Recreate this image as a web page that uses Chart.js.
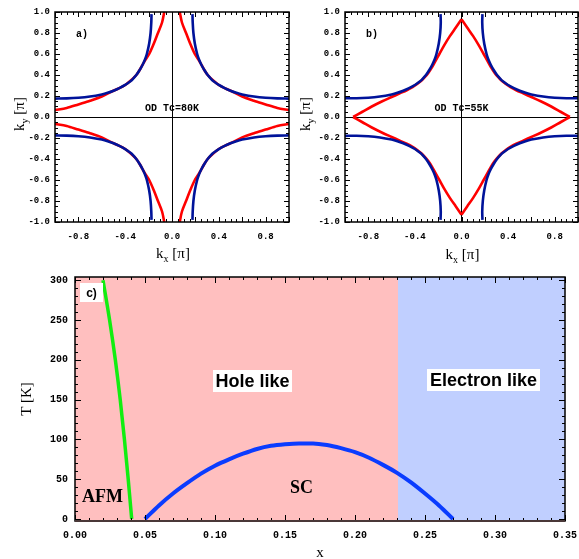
<!DOCTYPE html>
<html><head><meta charset="utf-8">
<script src="https://cdn.jsdelivr.net/npm/chart.js@4.4.0/dist/chart.umd.min.js"></script>
<style>
html,body{margin:0;padding:0;background:#fff;width:579px;height:559px;overflow:hidden}
canvas{position:absolute;display:block}
</style></head><body>
<canvas id="ca" width="290" height="265" style="left:0;top:0"></canvas>
<canvas id="cb" width="289" height="265" style="left:290px;top:0"></canvas>
<canvas id="cc" width="579" height="294" style="left:0;top:265px"></canvas>
<script>
// ---------- DATA ----------
// Panel a (OD Tc=80K): first-quadrant branch of each Fermi-surface curve (other quadrants by mirror symmetry)
const aBlueKx = [1.0, 0.9, 0.8, 0.7, 0.6, 0.55, 0.5, 0.45, 0.4, 0.35, 0.345, 0.305, 0.275, 0.25, 0.23, 0.215, 0.195, 0.183, 0.177, 0.175];
const aBlueKy = [0.175, 0.177, 0.183, 0.195, 0.215, 0.23, 0.25, 0.275, 0.305, 0.345, 0.35, 0.4, 0.45, 0.5, 0.55, 0.6, 0.7, 0.8, 0.9, 0.98];
const aRedKx  = [1.0, 0.9, 0.8, 0.7, 0.6, 0.53, 0.45, 0.4, 0.35, 0.305, 0.275, 0.235, 0.195, 0.155, 0.12, 0.085, 0.066];
const aRedKy  = [0.066, 0.085, 0.12, 0.155, 0.195, 0.235, 0.275, 0.305, 0.35, 0.4, 0.45, 0.53, 0.6, 0.7, 0.8, 0.9, 1.0];
// Panel b (OD Tc=55K)
const bBlueKx = [1.0, 0.9, 0.8, 0.7, 0.6, 0.55, 0.5, 0.45, 0.4, 0.35, 0.345, 0.305, 0.275, 0.25, 0.23, 0.215, 0.195, 0.183, 0.178, 0.18];
const bBlueKy = [0.18, 0.178, 0.183, 0.195, 0.215, 0.23, 0.25, 0.275, 0.305, 0.345, 0.35, 0.4, 0.45, 0.5, 0.55, 0.6, 0.7, 0.8, 0.9, 0.98];
const bRedKx  = [0.93, 0.85, 0.77, 0.68, 0.6, 0.53, 0.47, 0.42, 0.38, 0.345, 0.315, 0.285, 0.255, 0.225, 0.19, 0.15, 0.1, 0.05, 0.0];
const bRedKy  = [0.0, 0.05, 0.1, 0.15, 0.19, 0.225, 0.255, 0.285, 0.315, 0.345, 0.38, 0.42, 0.47, 0.53, 0.6, 0.68, 0.77, 0.85, 0.93];
// Panel c: phase diagram
const afmX = [0.0200, 0.0247, 0.0288, 0.0323, 0.0353, 0.0380, 0.0405];
const afmT = [300, 250, 200, 150, 100, 50, 0];
const scX = [0.05, 0.06, 0.07, 0.08, 0.09, 0.10, 0.11, 0.12, 0.13, 0.14, 0.15, 0.16, 0.17, 0.18, 0.19, 0.20, 0.21, 0.22, 0.23, 0.24, 0.25, 0.26, 0.27];
const scT = [0, 17, 32, 45, 57, 67, 75, 82, 88, 92, 94, 95, 95, 93, 89, 84, 77, 68, 58, 46, 32, 17, 0];
const regionX = [0.0, 0.231, 0.35];      // hole-like | electron-like boundary
// Tick labels
const kyLabels = [-1.0, -0.8, -0.6, -0.4, -0.2, 0.0, 0.2, 0.4, 0.6, 0.8, 1.0];
const kxLabels = [-0.8, -0.4, 0.0, 0.4, 0.8];
const cxLabels = [0.00, 0.05, 0.10, 0.15, 0.20, 0.25, 0.30, 0.35];
const cyLabels = [0, 50, 100, 150, 200, 250, 300];

// ---------- helpers ----------
function makeTicks(min, max, step){ const out=[]; const n=Math.round((max-min)/step); for(let i=0;i<=n;i++) out.push(Math.round((min+i*step)*1e6)/1e6); return out; }
function has(arr, v){ return arr.some(a=>Math.abs(a-v)<1e-7); }
function pts(xs, ys, sx, sy){ return xs.map((v,i)=>({x:sx*v, y:sy*ys[i]})); }
const Q = [[1,1],[-1,1],[-1,-1],[1,-1]];
const SERIF = '"Liberation Serif", "Times New Roman", serif';
const MONO = '"Liberation Mono", "Courier New", monospace';
const SANS = '"Liberation Sans", Arial, sans-serif';
function noPad(s){ s.paddingLeft=0; s.paddingRight=0; s.paddingTop=0; s.paddingBottom=0; }

const frameTicks = {
  id:'frameTicks',
  afterDatasetsDraw(chart, args, o){
    const {ctx, chartArea:a} = chart; const xs=chart.scales.x, ys=chart.scales.y;
    ctx.save(); ctx.strokeStyle='#000'; ctx.lineWidth=1;
    ctx.beginPath();
    xs.ticks.forEach(t=>{
      const p = Math.round(xs.getPixelForValue(t.value))+0.5;
      const L = has(o.xMajor,t.value)?o.major:o.minor;
      ctx.moveTo(p,a.bottom); ctx.lineTo(p,a.bottom-L);
      ctx.moveTo(p,a.top); ctx.lineTo(p,a.top+L);
    });
    ys.ticks.forEach(t=>{
      const p = Math.round(ys.getPixelForValue(t.value))+0.5;
      const L = has(o.yMajor,t.value)?o.major:o.minor;
      ctx.moveTo(a.left,p); ctx.lineTo(a.left+L,p);
      ctx.moveTo(a.right,p); ctx.lineTo(a.right-L,p);
    });
    ctx.stroke();
    ctx.lineWidth=o.borderWidth;
    ctx.strokeRect(a.left,a.top,a.right-a.left,a.bottom-a.top);
    if (o.bottomColor){ ctx.strokeStyle=o.bottomColor; ctx.lineWidth=2; ctx.beginPath(); ctx.moveTo(a.left,a.bottom); ctx.lineTo(a.right,a.bottom); ctx.stroke(); }
    ctx.restore();
  }
};

function drawK(ctx, sub, x, y, rotate){
  ctx.save(); ctx.translate(x,y); if(rotate) ctx.rotate(-Math.PI/2);
  const big='15px '+SERIF, small='10px '+SERIF;
  ctx.font=big; const wk=ctx.measureText('k').width; const wr=ctx.measureText(' [π]').width;
  ctx.font=small; const ws=ctx.measureText(sub).width;
  let cx=-(wk+ws+wr)/2;
  ctx.textBaseline='alphabetic'; ctx.textAlign='left'; ctx.fillStyle='#000';
  ctx.font=big; ctx.fillText('k',cx,0); cx+=wk;
  ctx.font=small; ctx.fillText(sub,cx,4); cx+=ws;
  ctx.font=big; ctx.fillText(' [π]',cx,0);
  ctx.restore();
}

function kChart(id, blueKx, blueKy, redKx, redKy, label, note, yTitleX, xTitleY){
  const datasets = [];
  Q.forEach(([sx,sy])=>datasets.push({data:pts(blueKx,blueKy,sx,sy), borderColor:'#00139a', borderWidth:2.6}));
  Q.forEach(([sx,sy])=>datasets.push({data:pts(redKx,redKy,sx,sy), borderColor:'#ff0000', borderWidth:2.6}));
  datasets.forEach(d=>{ d.pointRadius=0; d.tension=0.3; d.fill=false; });
  const tickFont = {family:MONO, size:9, weight:'bold'};
  const zeroGrid = { drawTicks:false, lineWidth:1, color: c => (c.tick && Math.abs(c.tick.value)<1e-7) ? '#000' : 'rgba(0,0,0,0)' };
  const annot = {
    id:'annot'+id,
    afterDraw(chart){
      const {ctx, chartArea:a} = chart;
      ctx.save(); ctx.fillStyle='#000';
      ctx.font='bold 10px '+MONO; ctx.textAlign='left'; ctx.textBaseline='alphabetic';
      ctx.fillText(label, a.left+21, a.top+25);
      ctx.textAlign='center';
      ctx.fillText(note, (a.left+a.right)/2, a.top+99);
      ctx.restore();
      drawK(ctx, 'y', yTitleX, (a.top+a.bottom)/2 - 3, true);
      drawK(ctx, 'x', (a.left+a.right)/2 + 1, xTitleY, false);
    }
  };
  return new Chart(document.getElementById(id), {
    type:'line',
    data:{datasets},
    options:{
      responsive:false, animation:false, devicePixelRatio:1,
      layout:{padding:{left:0, right:1, top:12, bottom:0}},
      plugins:{legend:{display:false}, tooltip:{enabled:false},
        frameTicks:{xMajor:kyLabels, yMajor:kyLabels, major:5, minor:3, borderWidth:1.5}},
      scales:{
        x:{type:'linear', min:-1, max:1,
           afterBuildTicks: s=>{ s.ticks = makeTicks(-1,1,0.05).map(v=>({value:v})); },
           afterFit: s=>{ s.height = 43; noPad(s); },
           ticks:{autoSkip:false, maxRotation:0, padding:9, font:tickFont, color:'#000',
                  callback: v => has(kxLabels, v) ? (Math.abs(v)<1e-7?0:v).toFixed(1) : ''},
           grid: zeroGrid, border:{display:false}},
        y:{type:'linear', min:-1, max:1,
           afterBuildTicks: s=>{ s.ticks = makeTicks(-1,1,0.05).map(v=>({value:v})); },
           afterFit: s=>{ s.width = 55; noPad(s); },
           ticks:{autoSkip:false, padding:5, font:tickFont, color:'#000',
                  callback: v => has(kyLabels, v) ? (Math.abs(v)<1e-7?0:v).toFixed(1) : ''},
           grid: zeroGrid, border:{display:false}}
      }
    },
    plugins:[frameTicks, annot]
  });
}

Chart.defaults.font.family = MONO;
kChart('ca', aBlueKx, aBlueKy, aRedKx, aRedKy, 'a)', 'OD Tc=80K', 24, 258);
kChart('cb', bBlueKx, bBlueKy, bRedKx, bRedKy, 'b)', 'OD Tc=55K', 20, 259);

// ---------- Panel c ----------
const cYMin = -2.5, cYMax = 304;
const regions = {
  id:'regions',
  beforeDatasetsDraw(chart){
    const {ctx, chartArea:a, scales:{x}} = chart;
    const cols = ['#ffbfbf', '#c0cfff'];
    ctx.save();
    for (let i=0;i<regionX.length-1;i++){
      const x0 = Math.round(x.getPixelForValue(regionX[i]));
      const x1 = Math.round(x.getPixelForValue(regionX[i+1]));
      ctx.fillStyle = cols[i];
      ctx.fillRect(x0, a.top, x1-x0, a.bottom-a.top);
    }
    ctx.restore();
  }
};
const cAnnot = {
  id:'cAnnot',
  afterDraw(chart){
    const {ctx, chartArea:a} = chart;
    ctx.save();
    function box(txt, cx, cy, w, h, font){
      ctx.fillStyle='#fff'; ctx.fillRect(cx-w/2, cy-h/2, w, h);
      ctx.fillStyle='#000'; ctx.font=font; ctx.textAlign='center'; ctx.textBaseline='middle';
      ctx.fillText(txt, cx, cy+1);
    }
    box('c)', 91.5, 27.5, 23, 19, 'bold 12px '+SANS);
    box('Hole like', 252.5, 116, 79, 22, 'bold 18px '+SANS);
    box('Electron like', 483.5, 115, 113, 22, 'bold 18px '+SANS);
    ctx.fillStyle='#000'; ctx.textBaseline='alphabetic'; ctx.textAlign='left';
    ctx.font='bold 18px '+SERIF;
    ctx.fillText('AFM', 82, 237);
    ctx.fillText('SC', 290, 228);
    ctx.font='15px '+SERIF; ctx.textAlign='center';
    ctx.fillText('x', (a.left+a.right)/2, 292);
    ctx.translate(31, (a.top+a.bottom)/2); ctx.rotate(-Math.PI/2);
    ctx.fillText('T [K]', 0, 0);
    ctx.restore();
  }
};
const cTickFont = {family:MONO, size:10, weight:'bold'};
new Chart(document.getElementById('cc'), {
  type:'line',
  data:{datasets:[
    {data:pts(scX, scT, 1, 1), borderColor:'#0a3cff', borderWidth:4, cubicInterpolationMode:'monotone'},
    {data:pts(afmX, afmT, 1, 1), borderColor:'#11ee11', borderWidth:3.5, cubicInterpolationMode:'monotone'}
  ].map(d=>Object.assign({pointRadius:0, fill:false}, d))},
  options:{
    responsive:false, animation:false, devicePixelRatio:1,
    layout:{padding:{left:0, right:14, top:12, bottom:0}},
    plugins:{legend:{display:false}, tooltip:{enabled:false},
      frameTicks:{xMajor:cxLabels, yMajor:cyLabels, major:6, minor:3, borderWidth:1.5, bottomColor:'#4a3838'}},
    scales:{
      x:{type:'linear', min:0, max:0.35,
         afterBuildTicks: s=>{ s.ticks = makeTicks(0,0.35,0.01).map(v=>({value:v})); },
         afterFit: s=>{ s.height = 38; noPad(s); },
         ticks:{autoSkip:false, maxRotation:0, padding:8, font:cTickFont, color:'#000',
                callback: v => has(cxLabels, v) ? v.toFixed(2) : ''},
         grid:{display:false, drawTicks:false}, border:{display:false}},
      y:{type:'linear', min:cYMin, max:cYMax,
         afterBuildTicks: s=>{ s.ticks = makeTicks(0,300,10).map(v=>({value:v})); },
         afterFit: s=>{ s.width = 75; noPad(s); },
         ticks:{autoSkip:false, padding:7, font:cTickFont, color:'#000',
                callback: v => has(cyLabels, v) ? String(Math.round(v)) : ''},
         grid:{display:false, drawTicks:false}, border:{display:false}}
    }
  },
  plugins:[regions, frameTicks, cAnnot]
});
</script>
</body></html>
